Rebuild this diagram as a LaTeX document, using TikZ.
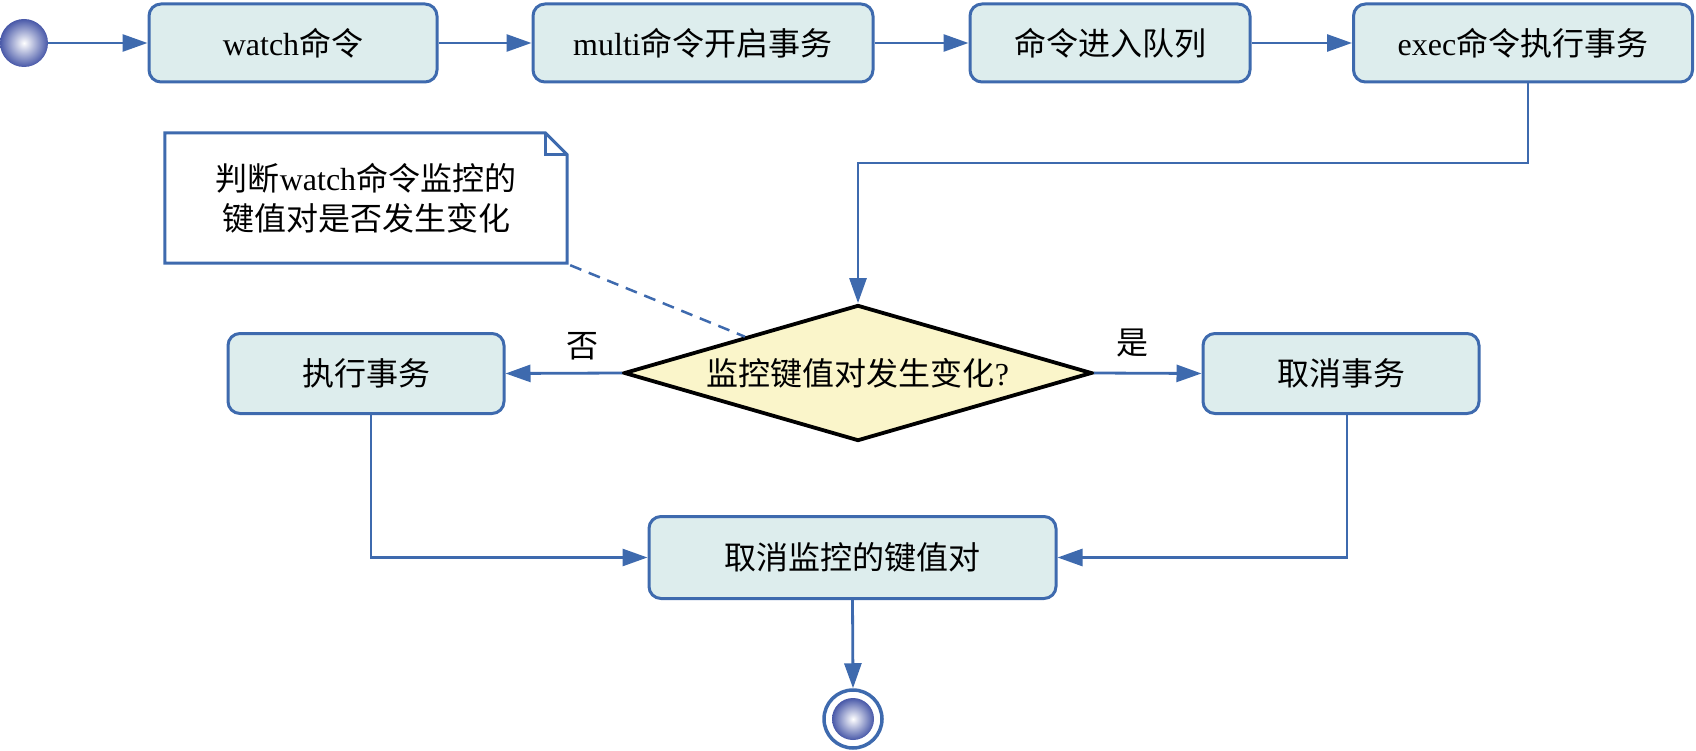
\documentclass[tikz,border=0pt]{standalone}
\usepackage{fontspec}
\setmainfont{Liberation Serif}
\newfontfamily\cjk{Noto Sans CJK SC}
\usetikzlibrary{arrows.meta,shapes.geometric,calc}
\newcommand\zh[1]{{\cjk #1}}
\definecolor{lineblue}{RGB}{62,106,174}
\definecolor{boxfill}{RGB}{221,237,237}
\definecolor{decfill}{RGB}{250,245,202}
\definecolor{ballblue}{RGB}{72,88,168}

\begin{document}
\begin{tikzpicture}[x=1pt,y=-1pt,
  txt/.style={font=\fontsize{32}{40}\selectfont},
  actbox/.style={txt, draw=lineblue, fill=boxfill, line width=3pt,
    rounded corners=12pt, inner sep=0pt, align=center},
  flow/.style={draw=lineblue, line width=2.8pt,
    -{Triangle[length=25pt,width=17pt]}},
  orb/.style={circle, inner sep=0pt, shading=radial,
    inner color=white, outer color=ballblue},
  noteline/.style={draw=lineblue, line width=3pt, fill=white, line join=miter},
  decision/.style={txt, diamond, draw=black, fill=decfill, line width=3.8pt,
    aspect=3.4, inner sep=0pt},
]
\useasboundingbox (0,0) rectangle (1696,751);

% start point
\node[orb, minimum size=48pt] (start) at (24,43) {};

% top row of actions
\node[actbox, minimum width=288pt, minimum height=78pt] (watch) at (293,43) {watch\zh{命令}};
\node[actbox, minimum width=340pt, minimum height=78pt] (multi) at (703,43) {multi\zh{命令开启事务}};
\node[actbox, minimum width=280pt, minimum height=78pt] (queue) at (1110,43) {\zh{命令进入队列}};
\node[actbox, minimum width=339pt, minimum height=78pt] (exec) at (1523,43) {exec\zh{命令执行事务}};

% note with folded corner
\node[minimum width=402pt, minimum height=130pt, inner sep=0pt] (note) at (366,198) {};
\draw[noteline] (note.south west) -- (note.north west)
  -- ([xshift=-22pt]note.north east) -- ([yshift=-22pt]note.north east)
  -- (note.south east) -- cycle;
\draw[noteline, fill=none] ([xshift=-22pt]note.north east) |- ([yshift=-22pt]note.north east);
\node[txt, align=center] (notetext) at (note.center) {\zh{判断}watch\zh{命令监控的}\\\zh{键值对是否发生变化}};

% decision
\node[decision, minimum width=468pt, minimum height=136pt] (dec) at (858,373) {\zh{监控键值对发生变化}?};

% branches
\node[actbox, minimum width=276pt, minimum height=80pt] (run) at (366,373.5) {\zh{执行事务}};
\node[actbox, minimum width=276pt, minimum height=80pt] (cancel) at (1341,373.5) {\zh{取消事务}};
\node[txt] (nolbl) at (582,346) {\zh{否}};
\node[txt] (yeslbl) at (1132,343) {\zh{是}};

% merge
\node[actbox, minimum width=407pt, minimum height=82pt] (unwatch) at (852.5,557.5) {\zh{取消监控的键值对}};

% end point
\node[circle, draw=lineblue, line width=3.5pt, fill=white, minimum size=58pt, inner sep=0pt] (stop) at (853,719) {};
\node[orb, minimum size=42pt] (stopball) at (stop.center) {};

% connectors
\coordinate (turn) at (1528,163);
\draw[flow] (start) -- (watch);
\draw[flow] (watch) -- (multi);
\draw[flow] (multi) -- (queue);
\draw[flow] (queue) -- (exec);
\draw[flow] (exec.south -| turn) -- (turn) -| (dec.north);
\draw[flow] (dec.west) -- (run.east);
\draw[flow] (dec.east) -- (cancel.west);
\draw[flow] ([xshift=5pt]run.south) |- (unwatch.west);
\draw[flow] ([xshift=6pt]cancel.south) |- (unwatch.east);
\draw[flow] (unwatch.south) -- (stop.north);
\draw[draw=lineblue, line width=2.5pt, dash pattern=on 12pt off 8pt]
  ([shift={(3pt,-2pt)}]note.south east) -- ($(dec.north)!0.48!(dec.west)$);
\end{tikzpicture}
\end{document}
